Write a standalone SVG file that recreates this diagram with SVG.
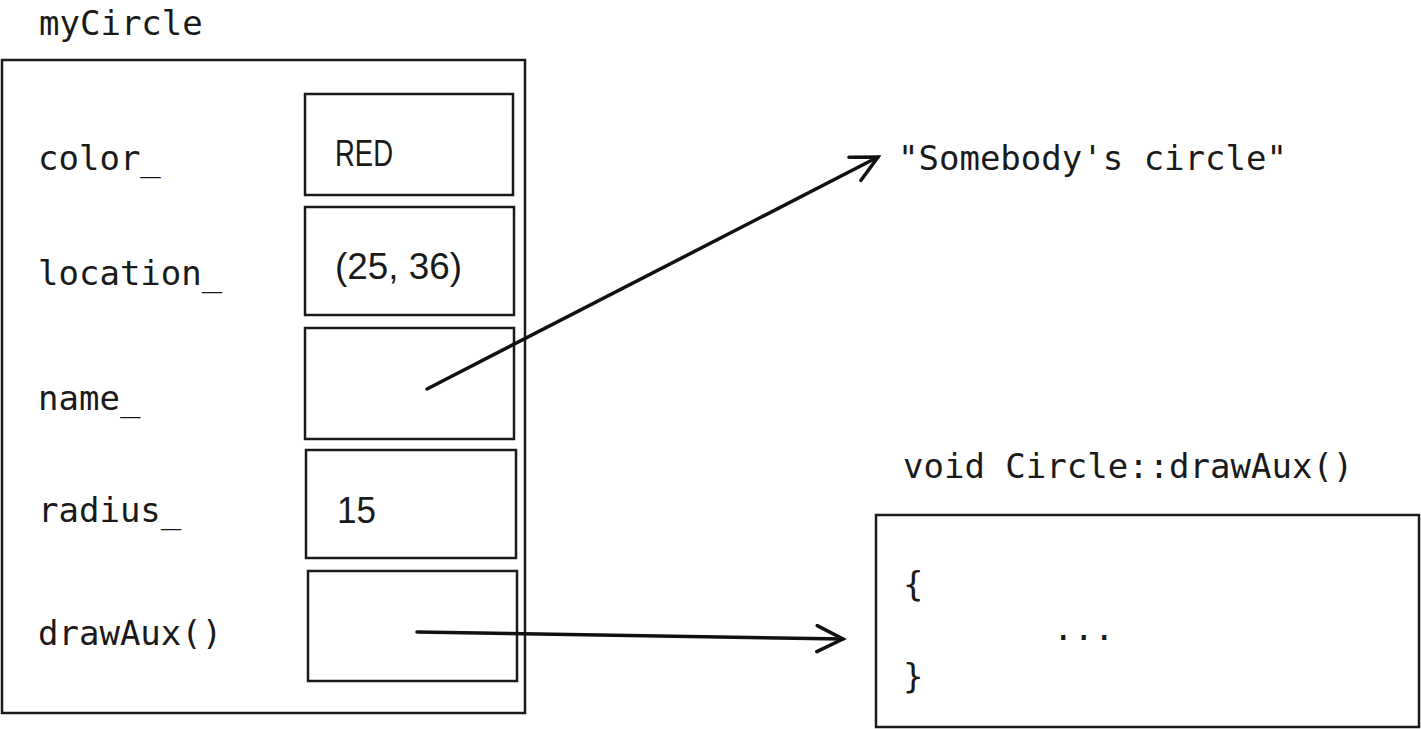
<svg xmlns="http://www.w3.org/2000/svg" width="1421" height="729" viewBox="0 0 1421 729">
<style>
.box{fill:none;stroke:#1a1a1a;stroke-width:2.5}
.mono{font-family:"DejaVu Sans Mono","Liberation Mono",monospace;font-size:34px;fill:#1a1a1a}
.sans{font-family:"Liberation Sans",Arial,sans-serif;font-size:37px;fill:#1a1a1a}
.conn{fill:none;stroke:#111;stroke-width:3.5;stroke-linecap:round}
</style>
<defs>
<marker id="arr" markerUnits="userSpaceOnUse" viewBox="-2 -2 32 30" refX="26" refY="13" markerWidth="32" markerHeight="30" orient="auto">
<path d="M0,0 L26,13 L0,26" fill="none" stroke="#111" stroke-width="3.5" stroke-linecap="round" stroke-linejoin="miter"/>
</marker>
</defs>
<rect width="1421" height="729" fill="#fff"/>
<g id="myCircle">
<text class="mono" x="39" y="35">myCircle</text>
<rect class="box" x="2" y="60" width="523" height="653"/>
</g>
<g id="color">
<text class="mono" x="38" y="170">color_</text>
<rect class="box" x="305" y="94" width="208" height="101"/>
<text class="sans" x="335" y="166" textLength="58" lengthAdjust="spacingAndGlyphs">RED</text>
</g>
<g id="location">
<text class="mono" x="38" y="285">location_</text>
<rect class="box" x="305" y="207" width="209" height="108"/>
<text class="sans" x="335" y="279" textLength="127" lengthAdjust="spacingAndGlyphs">(25, 36)</text>
</g>
<g id="name">
<text class="mono" x="38" y="410">name_</text>
<rect class="box" x="305" y="328" width="209" height="111"/>
</g>
<g id="radius">
<text class="mono" x="38" y="522">radius_</text>
<rect class="box" x="306" y="450" width="210" height="108"/>
<text class="sans" x="337" y="523" textLength="39" lengthAdjust="spacingAndGlyphs">15</text>
</g>
<g id="drawAux">
<text class="mono" x="38" y="645">drawAux()</text>
<rect class="box" x="308" y="571" width="209" height="110"/>
</g>
<g id="nameValue">
<text class="mono" x="898" y="170">"Somebody's circle"</text>
</g>
<g id="drawAuxFunc">
<text class="mono" x="903" y="478">void Circle::drawAux()</text>
<rect class="box" x="876" y="515" width="543" height="212"/>
<text class="mono" x="903" y="596">{</text>
<text class="mono" x="1053" y="640">...</text>
<text class="mono" x="903" y="688">}</text>
</g>
<g id="connectors">
<line class="conn" x1="427" y1="389" x2="878" y2="157" marker-end="url(#arr)"/>
<line class="conn" x1="417" y1="632" x2="843" y2="639" marker-end="url(#arr)"/>
</g>
</svg>
